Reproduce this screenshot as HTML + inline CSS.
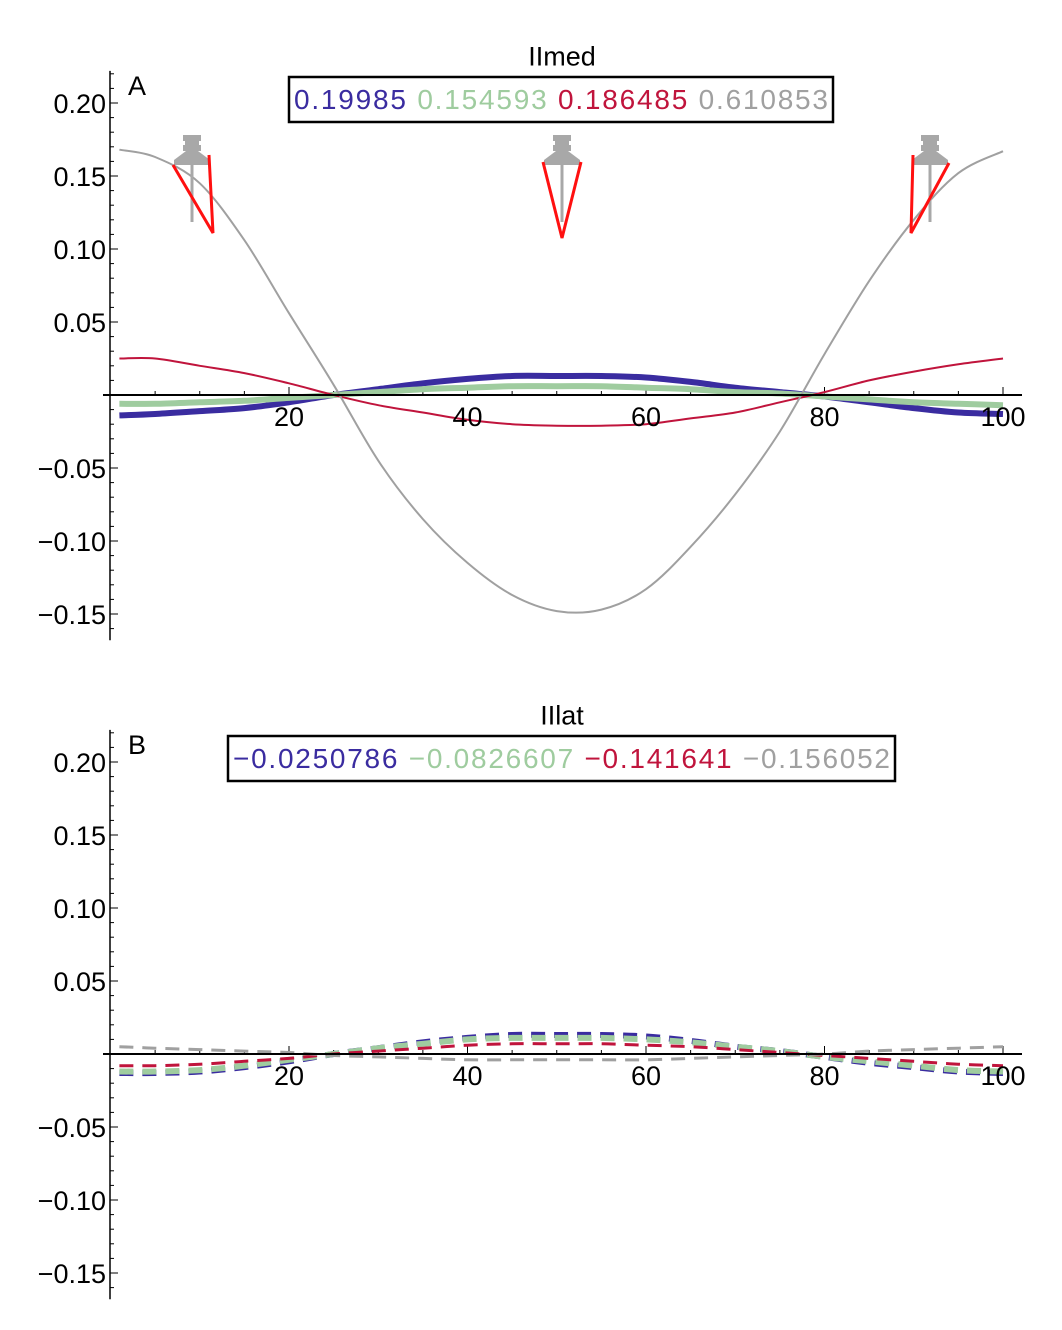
<!DOCTYPE html>
<html><head><meta charset="utf-8"><style>
body{margin:0;background:#fff;}
svg{display:block;font-family:"Liberation Sans",sans-serif;}
</style></head><body>
<svg id="c" width="1062" height="1330" xmlns="http://www.w3.org/2000/svg"></svg>
<script>
const xs=[1,5,10,15,20,25,30,35,40,45,50,55,60,65,70,75,80,85,90,95,100];
const aBlue=[-0.014,-0.013,-0.011,-0.009,-0.005,0,0.004,0.008,0.011,0.013,0.013,0.013,0.012,0.009,0.005,0.002,-0.001,-0.005,-0.009,-0.012,-0.013];
const aGreen=[-0.006,-0.006,-0.005,-0.004,-0.002,0,0.002,0.004,0.005,0.006,0.006,0.006,0.005,0.004,0.002,0.001,-0.001,-0.003,-0.005,-0.006,-0.007];
const aRed=[0.025,0.025,0.02,0.015,0.008,0,-0.007,-0.012,-0.017,-0.02,-0.021,-0.021,-0.02,-0.016,-0.012,-0.005,0.002,0.01,0.016,0.021,0.025];
const aGray=[0.168,0.163,0.145,0.106,0.056,0.007,-0.045,-0.085,-0.115,-0.137,-0.148,-0.147,-0.133,-0.104,-0.068,-0.025,0.028,0.078,0.12,0.152,0.167];
const bBlue=[-0.013,-0.013,-0.012,-0.009,-0.005,0,0.004,0.008,0.011,0.013,0.013,0.013,0.012,0.009,0.005,0.002,-0.002,-0.006,-0.009,-0.012,-0.013];
const bGreen=[-0.012,-0.012,-0.011,-0.008,-0.004,0,0.004,0.007,0.01,0.011,0.011,0.011,0.01,0.008,0.005,0.002,-0.002,-0.005,-0.008,-0.011,-0.012];
const bRed=[-0.008,-0.008,-0.007,-0.005,-0.003,0,0.002,0.004,0.006,0.007,0.007,0.007,0.006,0.005,0.003,0.001,-0.001,-0.003,-0.005,-0.007,-0.008];
const bGray=[0.005,0.004,0.003,0.002,0.001,-0.001,-0.002,-0.003,-0.004,-0.004,-0.004,-0.004,-0.004,-0.003,-0.002,-0.001,0,0.002,0.003,0.004,0.005];
const yTicks=[0.20,0.15,0.10,0.05,-0.05,-0.10,-0.15];
const xTicks=[20,40,60,80,100];
const legA=["0.19985","0.154593","0.186485","0.610853"];
const legB=["\u22120.0250786","\u22120.0826607","\u22120.141641","\u22120.156052"];
const cols=["#3a2ca0","#9fcc9f","#c0143c","#a0a0a0"];
const NS="http://www.w3.org/2000/svg";
const svg=document.getElementById('c');
function el(t,a,p){const e=document.createElementNS(NS,t);for(const k in a)e.setAttribute(k,a[k]);(p||svg).appendChild(e);return e;}
const X=v=>110.5+v*8.925;
function smooth(pts){
  let d='M'+pts[0][0].toFixed(1)+','+pts[0][1].toFixed(1);
  for(let i=0;i<pts.length-1;i++){
    const p0=pts[Math.max(i-1,0)],p1=pts[i],p2=pts[i+1],p3=pts[Math.min(i+2,pts.length-1)];
    const c1=[p1[0]+(p2[0]-p0[0])/6,p1[1]+(p2[1]-p0[1])/6];
    const c2=[p2[0]-(p3[0]-p1[0])/6,p2[1]-(p3[1]-p1[1])/6];
    d+='C'+c1.map(v=>v.toFixed(1)).join(',')+' '+c2.map(v=>v.toFixed(1)).join(',')+' '+p2.map(v=>v.toFixed(1)).join(',');
  }
  return d;
}
function panel(y0,title,letter,leg,box,series,dashed,icons){
  const Y=v=>y0-v*1460;
  const g=el('g',{});
  
  
  let t=el('text',{x:562,y:Y(0.232)+9,'text-anchor':'middle','font-size':27},g);t.textContent=title;
  
  t=el('text',{x:128,y:Y(0.2)-8,'font-size':27},g);t.textContent=letter;
  
  let a=el('line',{x1:110,y1:Y(0.222),x2:110,y2:Y(-0.168),stroke:'#000','stroke-width':1.5},g);
  
  for(let v=-16;v<=22;v++){const yy=Y(v/100);el('line',{x1:110,x2:v%5==0?118:114,y1:yy,y2:yy,stroke:'#000','stroke-width':1},g);}
  yTicks.forEach(v=>{const tt=el('text',{x:106,y:Y(v)+10,'text-anchor':'end','font-size':27},g);tt.textContent=(v<0?'\u2212':'')+Math.abs(v).toFixed(2);
    });
  for(let v=5;v<=100;v+=5){el('line',{x1:X(v),x2:X(v),y1:Y(0),y2:Y(0)-(v%20==0?8:4),stroke:'#000','stroke-width':1},g);}
  series.forEach((s,i)=>{
    const d=smooth(s.map((v,j)=>[X(xs[j]),Y(v)]));
    const w=dashed?(i<2?6:3):(i<2?6:2);
    const p=el('path',{d:d,fill:'none',stroke:cols[i],'stroke-width':w,'stroke-linejoin':'round'},g);
    if(dashed)p.setAttribute('stroke-dasharray','14,9');
    
    
  });
  a=el('line',{x1:103,y1:Y(0),x2:1022,y2:Y(0),stroke:'#000','stroke-width':2},g);
  
  xTicks.forEach(v=>{const tt=el('text',{x:X(v),y:Y(0)+31,'text-anchor':'middle','font-size':27},g);tt.textContent=v;
    });
  if(icons){
    [[192,[[173,165],[213,233],[209,155]]],[562,[[543,162],[562,238],[581,162]]],[930,[[913,155],[911,233],[949,163]]]].forEach(([cx,r])=>{
      const ig=el('g',{},g);
      el('rect',{x:cx-9,y:135,width:18,height:6,fill:'#a8a8a8'},ig);
      el('rect',{x:cx-7,y:141,width:14,height:4,fill:'#a8a8a8'},ig);
      el('rect',{x:cx-9,y:145,width:18,height:6,fill:'#a8a8a8'},ig);
      el('path',{d:`M${cx-6},151 L${cx+6},151 L${cx+18},160 L${cx+18},165 L${cx-18},165 L${cx-18},160Z`,fill:'#a8a8a8'},ig);
      el('line',{x1:cx,y1:160,x2:cx,y2:222,stroke:'#a8a8a8','stroke-width':3},ig);
      el('polyline',{points:r.map(p=>p.join(',')).join(' '),fill:'none',stroke:'#ff1010','stroke-width':3},ig);
    });
  }
  const lg=el('g',{},g);
  el('rect',{x:box[0],y:box[1],width:box[2]-box[0],height:45,fill:'#fff',stroke:'#000','stroke-width':2.5},lg);
  const tx=el('text',{x:box[0]+5,y:box[1]+32,'font-size':28},lg);
  leg.forEach((s,i)=>{const ts=el('tspan',{fill:cols[i]},tx);ts.textContent=(i?' ':'')+s;
    });
  tx.setAttribute('textLength',box[2]-box[0]-10);
}
panel(395,'IImed','A',legA,[289,77,833],[aBlue,aGreen,aRed,aGray],false,true);
panel(1054,'IIlat','B',legB,[228,736,895],[bBlue,bGreen,bRed,bGray],true,false);
</script>
</body></html>
